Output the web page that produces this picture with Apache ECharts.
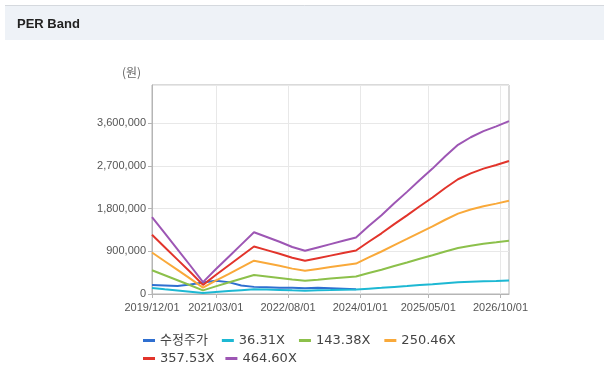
<!DOCTYPE html>
<html><head><meta charset="utf-8">
<script src="https://cdn.jsdelivr.net/npm/echarts@6/dist/echarts.min.js"></script>
<style>html,body{margin:0;padding:0;background:#fff}#c{width:604px;height:383px}</style>
</head><body><div id="c"></div>
<script>
const xTickLabels = ['2019/12/01','2021/03/01','2022/08/01','2024/01/01','2025/05/01','2026/10/01'];
const knotDates = ['2019/12/01','2020/03/01','2020/06/01','2020/09/01','2020/12/01','2021/03/01','2021/06/01','2021/09/01','2021/12/01','2022/03/01','2022/06/01','2022/09/01','2022/12/01','2023/03/01','2023/06/01','2023/09/01','2023/12/01','2024/03/01','2024/06/01','2024/09/01','2024/12/01','2025/03/01','2025/06/01','2025/09/01','2025/12/01','2026/03/01','2026/06/01','2026/09/01','2026/12/01'];
const seriesNames = ['수정주가','36.31X','143.38X','250.46X','357.53X','464.60X'];
const price = [190000,180000,170000,200000,240000,280000,250000,180000,150000,140000,130000,130000,120000,130000,120000,110000,100000];
const band1 = [127000,100000,74000,47000,20000,41000,61000,81000,102000,94000,86000,77000,71000,77000,82000,88000,93000,112000,130000,149000,168000,188000,206000,227000,246000,258000,268000,276000,285000];
const band2 = [500000,395000,290000,185000,77000,160000,241000,321000,401000,370000,339000,306000,281000,302000,324000,346000,367000,441000,512000,589000,663000,741000,815000,895000,969000,1018000,1058000,1089000,1123000];
const band3 = [873000,690000,507000,323000,135000,280000,420000,561000,701000,647000,593000,534000,490000,528000,566000,604000,641000,771000,895000,1029000,1159000,1294000,1423000,1563000,1692000,1779000,1849000,1903000,1962000];
const band4 = [1247000,985000,723000,462000,192000,400000,600000,800000,1000000,924000,847000,762000,700000,754000,808000,862000,916000,1100000,1278000,1470000,1655000,1847000,2032000,2232000,2416000,2540000,2640000,2717000,2801000];
const band5 = [1620000,1280000,940000,600000,250000,520000,780000,1040000,1300000,1200000,1100000,990000,910000,980000,1050000,1120000,1190000,1430000,1660000,1910000,2150000,2400000,2640000,2900000,3140000,3300000,3430000,3530000,3640000];
const colors = ['#2f6fd0','#1db8d3','#8cc04b','#f9a93a','#e2342b','#9d56b4'];

// monthly category axis 2019/12 .. 2026/12
const months = [];
for (let y = 2019, m = 12; y < 2027; ) {
  months.push(y + '/' + String(m).padStart(2, '0') + '/01');
  if (y === 2026 && m === 12) break;
  m++; if (m > 12) { m = 1; y++; }
}
const pairs = arr => arr.map((v, i) => [knotDates[i], v]);
const allData = [price, band1, band2, band3, band4, band5];
const isTick = (i, v) => xTickLabels.indexOf(v) >= 0;
const fmt = v => String(v).replace(/\B(?=(\d{3})+(?!\d))/g, ',');

const chart = echarts.init(document.getElementById('c'), null, {renderer: 'canvas'});
const legendText = {fontFamily: 'DejaVu Sans, Noto Sans CJK KR, sans-serif', fontSize: 13, color: '#444'};
chart.setOption({
  animation: false,
  backgroundColor: '#fff',
  graphic: [
    {type: 'rect', shape: {x: 5, y: 5, width: 599, height: 35}, style: {fill: '#eef2f7'}, z: -1},
    {type: 'line', shape: {x1: 5, y1: 5.5, x2: 604, y2: 5.5}, style: {stroke: '#d5d9de', lineWidth: 1}},
    {type: 'text', left: 17, top: 18, style: {text: 'PER Band', font: 'bold 13px Liberation Sans, Arial, sans-serif', fill: '#222'}},
    {type: 'text', left: 122, top: 66, style: {text: '(원)', font: '12px Noto Sans CJK KR, sans-serif', fill: '#666'}}
  ],
  grid: {left: 152, right: 95, top: 85, bottom: 89, show: true, borderColor: '#b5b5b5', borderWidth: 1},
  legend: [
    {left: 138, top: 329, itemWidth: 12, itemHeight: 3, itemGap: 14, icon: 'rect',
     data: seriesNames.slice(0, 4), textStyle: legendText},
    {left: 138, top: 347, itemWidth: 12, itemHeight: 3, itemGap: 11, icon: 'rect',
     data: seriesNames.slice(4), textStyle: legendText}
  ],
  xAxis: {
    type: 'category', data: months, boundaryGap: false,
    axisLine: {lineStyle: {color: '#b5b5b5'}},
    axisTick: {interval: isTick, length: 4, lineStyle: {color: '#b5b5b5'}},
    axisLabel: {interval: isTick, color: '#555', fontSize: 11, fontFamily: 'Liberation Sans, Arial, sans-serif', margin: 8, hideOverlap: false},
    splitLine: {show: true, interval: isTick, lineStyle: {color: '#e8e8e8'}}
  },
  yAxis: {
    type: 'value', min: 0, max: 4400000, interval: 900000,
    axisLine: {show: true, lineStyle: {color: '#b5b5b5'}},
    axisTick: {show: true, length: 4, lineStyle: {color: '#b5b5b5'}},
    axisLabel: {color: '#555', fontSize: 11, fontFamily: 'Liberation Sans, Arial, sans-serif', formatter: fmt, showMaxLabel: false, margin: 6},
    splitLine: {lineStyle: {color: '#e8e8e8'}}
  },
  series: seriesNames.map((n, i) => ({
    name: n, type: 'line', data: pairs(allData[i]), showSymbol: false, symbol: 'none',
    lineStyle: {width: 2, color: colors[i]}, itemStyle: {color: colors[i]}, z: 2
  }))
});
</script></body></html>
